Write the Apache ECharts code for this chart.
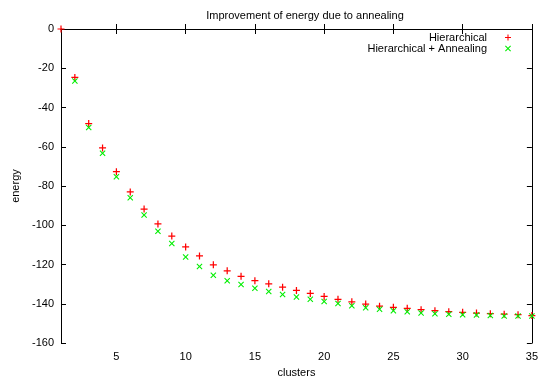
<!DOCTYPE html>
<html>
<head>
<meta charset="utf-8">
<script src="https://cdn.jsdelivr.net/npm/echarts@6/dist/echarts.min.js"></script>
<style>html,body{margin:0;padding:0;background:#fff}#c{width:541px;height:383px}</style>
</head>
<body>
<div id="c"></div>
<script>
const clusters = [1,2,3,4,5,6,7,8,9,10,11,12,13,14,15,16,17,18,19,20,21,22,23,24,25,26,27,28,29,30,31,32,33,34,35];
const hierarchical = [0,-24.7,-48.2,-60.6,-72.7,-83,-91.7,-99.3,-105.5,-111,-115.6,-120.1,-123.2,-126,-128.2,-129.8,-131.5,-133.2,-134.7,-136.2,-137.7,-139,-140.1,-141.2,-141.8,-142.3,-143,-143.5,-144,-144.3,-144.7,-145,-145.3,-145.5,-146];
const annealing = [null,-26.5,-50.2,-63.3,-75.2,-86,-94.7,-103,-109.3,-116.2,-121,-125.5,-128.2,-130.2,-132,-133.7,-135.2,-136.5,-137.7,-138.8,-139.8,-141,-142,-142.7,-143.5,-144,-144.7,-145,-145.3,-145.5,-145.7,-146,-146.2,-146.2,-146.2];
const xTicks = [5,10,15,20,25,30,35];
const title = 'Improvement of energy due to annealing';
const seriesNames = ['Hierarchical','Hierarchical + Annealing'];

const plusPath = 'path://M3.5,0 H5 V3.5 H8.5 V5 H5 V8.5 H3.5 V5 H0 V3.5 H3.5 Z';
const crossPath = 'path://M0,1 L1,0 L4,3 L7,0 L8,1 L5,4 L8,7 L7,8 L4,5 L1,8 L0,7 L3,4 Z';
const font = 'Liberation Sans, Arial, Helvetica, sans-serif';

const chart = echarts.init(document.getElementById('c'), null, {renderer:'canvas'});
const xBase = {
  type:'value', min:1, max:35,
  axisLine:{show:true, lineStyle:{color:'#000', width:1}},
  axisTick:{show:true, inside:true, length:5, customValues:xTicks, lineStyle:{color:'#000'}},
  splitLine:{show:false}
};
const yBase = {
  type:'value', min:-160, max:0, interval:20,
  axisLine:{show:true, onZero:false, lineStyle:{color:'#000', width:1}},
  axisTick:{show:true, inside:true, length:5, lineStyle:{color:'#000'}},
  splitLine:{show:false}
};
chart.setOption({
  animation:false,
  backgroundColor:'#fff',
  title:{text:title, left:300, textAlign:'center', top:5, textStyle:{fontFamily:font, fontSize:11, fontWeight:'normal', color:'#000'}},
  grid:{left:61, right:4, top:29, bottom:34},
  legend:{
    orient:'vertical', right:30, top:32, align:'right', itemGap:0, padding:0,
    itemWidth:6, itemHeight:6, selectedMode:false,
    textStyle:{fontFamily:font, fontSize:11, lineHeight:11, color:'#000', width:160, align:'right', padding:[0,13,0,0]},
    data:[{name:seriesNames[0], icon:plusPath, itemStyle:{color:'#ff0000'}},{name:seriesNames[1], icon:crossPath, itemStyle:{color:'#00ee00'}}]
  },
  xAxis:[
    Object.assign({}, xBase, {position:'bottom', name:'clusters', nameLocation:'middle', nameGap:22,
      nameTextStyle:{fontFamily:font, fontSize:11, color:'#000'},
      axisLabel:{show:true, customValues:xTicks, margin:8, fontFamily:font, fontSize:11, color:'#000'}}),
    Object.assign({}, xBase, {position:'top', axisLabel:{show:false}})
  ],
  yAxis:[
    Object.assign({}, yBase, {position:'left', name:'energy', nameLocation:'middle', nameGap:40, nameRotate:90,
      nameTextStyle:{fontFamily:font, fontSize:11, color:'#000'},
      axisLabel:{show:true, margin:7, fontFamily:font, fontSize:11, color:'#000'}}),
    Object.assign({}, yBase, {position:'right', axisLabel:{show:false}})
  ],
  series:[
    {name:seriesNames[0], type:'scatter', symbol:plusPath, symbolSize:7, clip:false,
     itemStyle:{color:'#ff0000', opacity:1},
     data:clusters.map((c,i)=>[c, hierarchical[i]])},
    {name:seriesNames[1], type:'scatter', symbol:crossPath, symbolSize:6, clip:false,
     itemStyle:{color:'#00ee00', opacity:1},
     data:clusters.map((c,i)=>[c, annealing[i]]).filter(d=>d[1]!==null)}
  ]
});
</script>
</body>
</html>
